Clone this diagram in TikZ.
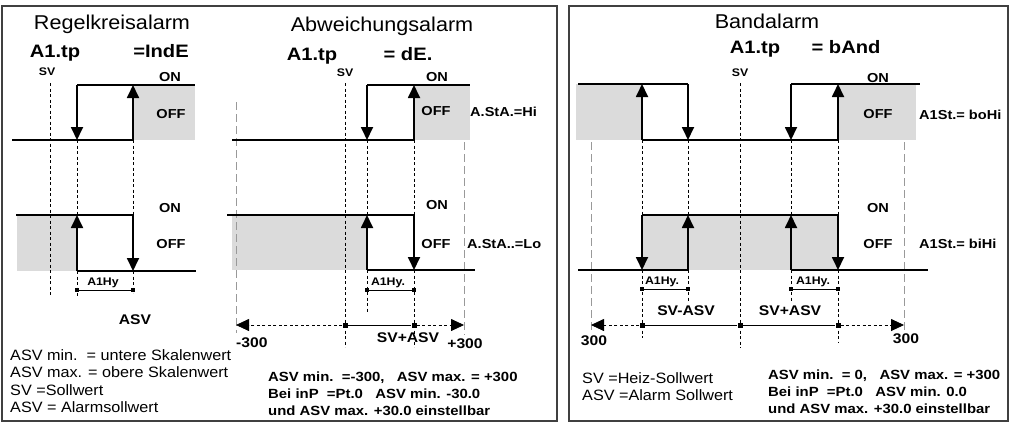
\documentclass[tikz,border=0pt]{standalone}
\usepackage{fontspec}
\setmainfont{Liberation Sans}[FakeStretch=1.08, BoldFeatures={FakeStretch=1.12}]
\usetikzlibrary{arrows.meta}

\begin{document}
\begin{tikzpicture}[
    x=1pt, y=-1pt,
    >={Triangle[width=12pt,length=13pt]},
    frame/.style={draw=black!75, line width=1.4pt},
    lvl/.style={line width=1.1pt},
    sw/.style={->, line width=1.8pt},
    vd/.style={dash pattern=on 3pt off 2.5pt, line width=0.8pt},
    gd/.style={draw=black!40, dash pattern=on 8pt off 4pt, line width=0.9pt},
    zone/.style={fill=black!14},
    sq/.style={fill, minimum size=5pt, inner sep=0pt},
    hsq/.style={fill, minimum size=4pt, inner sep=0pt},
    dim/.style={line width=0.9pt},
    ttl/.style={font=\fontsize{20}{24}\selectfont, anchor=base, inner sep=0pt},
    hdr/.style={font=\bfseries\fontsize{18}{21}\selectfont, anchor=base, inner sep=0pt},
    lbl/.style={font=\bfseries\fontsize{13}{15}\selectfont, anchor=base, inner sep=0pt},
    sml/.style={font=\bfseries\fontsize{11}{12}\selectfont, anchor=base, inner sep=0pt},
    num/.style={font=\bfseries\fontsize{14}{16}\selectfont, anchor=base, inner sep=0pt},
    note/.style={font=\fontsize{15}{17.6}\selectfont, align=left, anchor=north west, inner sep=0pt},
    bnote/.style={font=\bfseries\fontsize{13.3}{17}\selectfont, align=left, anchor=north west, inner sep=0pt}
]
\useasboundingbox (0,0) rectangle (1011,424);

% =========================================================
% RAHMEN
% =========================================================
\draw[frame] (2,6) rectangle (557,421);
\draw[frame] (569,6) rectangle (1008,421);

% =========================================================
% REGELKREISALARM
% =========================================================
\fill[zone] (133,85) rectangle (195,140);
\fill[zone] (17,215) rectangle (77,271);
\draw[vd] (50,83) -- (50,295);
\draw[vd] (77,140) -- (77,215) (77,271) -- (77,297);
\draw[vd] (133,140) -- (133,215) (133,271) -- (133,293);
\draw[lvl] (77,85) -- (195,85);
\draw[lvl] (12,140) -- (133,140);
\draw[lvl] (16,215) -- (134,215);
\draw[lvl] (77,271) -- (196,271);
\draw[sw] (77,85) -- (77,140);
\draw[sw] (133,140) -- (133,85);
\draw[sw] (77,271) -- (77,215);
\draw[sw] (133,215) -- (133,271);

\node[ttl] (rTitle) at (112,29) {Regelkreisalarm};
\node[hdr] (rTp) at (55,57) {A1.tp};
\node[hdr] (rTyp) at (161,57) {=IndE};
\node[sml] (rSV) at (47,75) {SV};
\node[lbl] (rOn1) at (170,81) {ON};
\node[lbl] (rOff1) at (171,118) {OFF};
\node[lbl] (rOn2) at (170,212) {ON};
\node[lbl] (rOff2) at (171,248) {OFF};

% Hysterese
\node[hsq] (rHa) at (77,290) {};
\node[hsq] (rHb) at (133,290) {};
\draw[dim] (rHa) -- (rHb);
\node[sml] (rHy) at (103,285) {A1Hy};
\node[num] (rAsv) at (135,324) {ASV};

\node[note] (rNote) at (10,349)
{ASV min.\ \ = untere Skalenwert\\ASV max. = obere Skalenwert\\SV =Sollwert\\ASV = Alarmsollwert};

% =========================================================
% ABWEICHUNGSALARM
% =========================================================
\fill[zone] (414,85) rectangle (470,140);
\fill[zone] (232,215) rectangle (367,270);
\draw[gd] (236,102) -- (236,333);
\draw[gd] (464,142) -- (464,335);
\draw[vd] (345,83) -- (345,347);
\draw[vd] (367,140) -- (367,215) (367,270) -- (367,312);
\draw[vd] (414,140) -- (414,215) (414,270) -- (414,347);
\draw[lvl] (367,85) -- (470,85);
\draw[lvl] (232,140) -- (414,140);
\draw[lvl] (227,215) -- (414,215);
\draw[lvl] (367,270) -- (475,270);
\draw[sw] (367,85) -- (367,140);
\draw[sw] (414,140) -- (414,85);
\draw[sw] (367,270) -- (367,215);
\draw[sw] (414,215) -- (414,270);

\node[ttl] (aTitle) at (382,31) {Abweichungsalarm};
\node[hdr] (aTp) at (312,60) {A1.tp};
\node[hdr] (aTyp) at (408,60) {= dE.};
\node[sml] (aSV) at (345,76) {SV};
\node[lbl] (aOn1) at (437,81) {ON};
\node[lbl] (aOff1) at (436,115) {OFF};
\node[lbl, anchor=base west] (aHi) at (470,116) {A.StA.=Hi};
\node[lbl] (aOn2) at (437,209) {ON};
\node[lbl] (aOff2) at (436,248) {OFF};
\node[lbl, anchor=base west] (aLo) at (467,248) {A.StA..=Lo};

% Hysterese
\node[hsq] (aHa) at (367,290) {};
\node[hsq] (aHb) at (414,290) {};
\draw[dim] (aHa) -- (aHb);
\node[sml] (aHy) at (388,285) {A1Hy.};

% Einstellbereich
\coordinate (aMin) at (236,325);
\coordinate (aMax) at (464,325);
\node[sq] (aS) at (345,325) {};
\node[sq] (aA) at (414,325) {};
\draw[dim] (aS) -- (aA);
\draw[vd, ->] (aS) -- (aMin);
\draw[vd, ->] (aA) -- (aMax);
\node[num, anchor=base west] (aLow) at (236,347) {-300};
\node[num] (aSum) at (408,342) {SV+ASV};
\node[num] (aHigh) at (465,348) {+300};

\node[bnote] (aNote) at (268,372)
{ASV min.\ \ =-300,\ \ \ ASV max. = +300\\Bei inP\ \ =Pt.0\ \ \ ASV min. -30.0\\und ASV max. +30.0 einstellbar};

% =========================================================
% BANDALARM
% =========================================================
\fill[zone] (576,84) rectangle (642,140);
\fill[zone] (838,84) rectangle (916,140);
\fill[zone] (642,215) rectangle (838,270);
\draw[gd] (591,142) -- (591,333);
\draw[gd] (904,142) -- (904,330);
\draw[vd] (740,83) -- (740,348);
\draw[vd] (642,140) -- (642,215) (642,270) -- (642,338);
\draw[vd] (688,140) -- (688,215) (688,270) -- (688,302);
\draw[vd] (791,140) -- (791,215) (791,270) -- (791,302);
\draw[vd] (838,140) -- (838,215) (838,270) -- (838,342);
\draw[lvl] (578,84) -- (688,84);
\draw[lvl] (791,84) -- (920,84);
\draw[lvl] (642,140) -- (838,140);
\draw[lvl] (642,215) -- (838,215);
\draw[lvl] (578,270) -- (688,270);
\draw[lvl] (791,270) -- (928,270);
\draw[sw] (642,140) -- (642,84);
\draw[sw] (688,84) -- (688,140);
\draw[sw] (791,84) -- (791,140);
\draw[sw] (838,140) -- (838,84);
\draw[sw] (642,215) -- (642,270);
\draw[sw] (688,270) -- (688,215);
\draw[sw] (791,270) -- (791,215);
\draw[sw] (838,215) -- (838,270);

\node[ttl] (bTitle) at (767,28) {Bandalarm};
\node[hdr] (bTp) at (755,53) {A1.tp};
\node[hdr] (bTyp) at (846,53) {= bAnd};
\node[sml] (bSV) at (740,76) {SV};
\node[lbl] (bOn1) at (878,82) {ON};
\node[lbl] (bOff1) at (878,118) {OFF};
\node[lbl, anchor=base west] (bHi) at (919,119) {A1St.= boHi};
\node[lbl] (bOn2) at (878,212) {ON};
\node[lbl] (bOff2) at (878,248) {OFF};
\node[lbl, anchor=base west] (bLo) at (919,248) {A1St.= biHi};

% Hysterese
\node[hsq] (bHa) at (642,289) {};
\node[hsq] (bHb) at (688,289) {};
\node[hsq] (bHc) at (791,289) {};
\node[hsq] (bHd) at (838,289) {};
\draw[dim] (bHa) -- (bHb);
\draw[dim] (bHc) -- (bHd);
\node[sml] (bHy1) at (662,284) {A1Hy.};
\node[sml] (bHy2) at (813,284) {A1Hy.};

% Einstellbereich
\coordinate (bMin) at (591,325);
\coordinate (bMax) at (904,325);
\node[sq] (bL) at (642,325) {};
\node[sq] (bS) at (740,325) {};
\node[sq] (bR) at (838,325) {};
\draw[dim] (bL) -- (bS);
\draw[dim] (bS) -- (bR);
\draw[vd, ->] (bL) -- (bMin);
\draw[vd, ->] (bR) -- (bMax);
\node[num] (bDiff) at (686,315) {SV-ASV};
\node[num] (bSum) at (790,315) {SV+ASV};
\node[num] (bLow) at (594,345) {300};
\node[num] (bHigh) at (906,343) {300};

\node[note] (bNote) at (582,372) {SV =Heiz-Sollwert\\ASV =Alarm Sollwert};
\node[bnote] (bInfo) at (768,370)
{ASV min.\ \ = 0,\ \ \ ASV max. = +300\\Bei inP\ \ =Pt.0\ \ \ ASV min. 0.0\\und ASV max. +30.0 einstellbar};

\end{tikzpicture}
\end{document}
